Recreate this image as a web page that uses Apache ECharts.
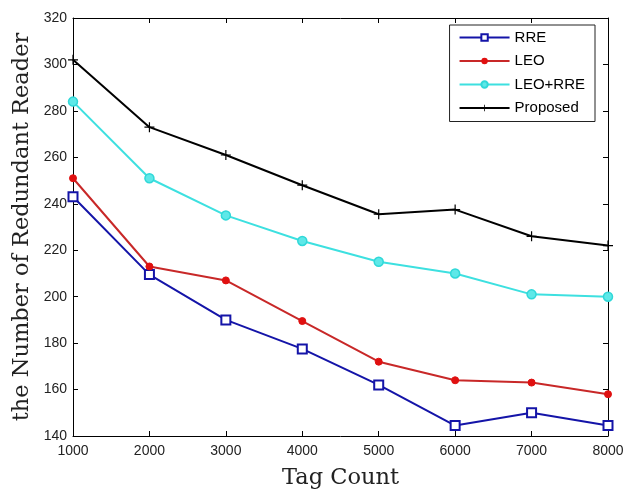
<!DOCTYPE html>
<html><head><meta charset="utf-8">
<script src="https://cdn.jsdelivr.net/npm/echarts@6/dist/echarts.min.js"></script>
<style>html,body{margin:0;padding:0;background:#fff}#c{width:623px;height:491px}</style>
</head><body><div id="c"></div>
<script>
const categories = [1000, 2000, 3000, 4000, 5000, 6000, 7000, 8000];
const rre = [243, 209.5, 190, 177.5, 162, 144.5, 150, 144.5];
const leo = [251, 213, 207, 189.5, 172, 164, 163, 158];
const leoRre = [284, 251, 235, 224, 215, 210, 201, 200];
const proposed = [302, 273, 261, 248, 235.5, 237.5, 226, 222];
const seriesNames = ['RRE', 'LEO', 'LEO+RRE', 'Proposed'];

const pair = arr => arr.map((v, i) => [categories[i], v]);
const plusPath = 'path://M4.4,0H5.6V4.4H10V5.6H5.6V10H4.4V5.6H0V4.4H4.4Z';

const chart = echarts.init(document.getElementById('c'));
const axisCommon = {
  axisLine: {lineStyle: {color: '#000', width: 1}},
  axisTick: {inside: true, length: 5, lineStyle: {color: '#000'}},
  splitLine: {show: false}
};
chart.setOption({
  animation: false,
  backgroundColor: '#fff',
  grid: {left: 73, right: 15, top: 18, bottom: 55, outerBoundsMode: 'none', containLabel: false},
  legend: {
    right: 28, top: 25, orient: 'vertical', itemWidth: 50, itemHeight: 8, itemGap: 8.5,
    backgroundColor: '#fff', borderColor: '#222', borderWidth: 1, borderRadius: 0,
    padding: [5, 10, 6, 9],
    textStyle: {fontFamily: 'Liberation Sans', fontSize: 15, color: '#000'},
    data: seriesNames
  },
  xAxis: [
    Object.assign({type: 'value', min: 1000, max: 8000, interval: 1000,
      name: 'Tag Count', nameLocation: 'middle', nameGap: 31, nameMoveOverlap: false,
      nameTextStyle: {fontFamily: 'DejaVu Serif', fontSize: 22.5, color: '#222'},
      axisLabel: {fontFamily: 'Liberation Sans', fontSize: 14, color: '#222', margin: 8,
        formatter: v => String(v)}}, axisCommon),
    Object.assign({type: 'value', min: 1000, max: 8000, interval: 1000, position: 'top',
      axisLabel: {show: false}}, axisCommon)
  ],
  yAxis: [
    Object.assign({type: 'value', min: 140, max: 320, interval: 20,
      name: 'the Number of Redundant Reader', nameLocation: 'middle', nameGap: 39, nameMoveOverlap: false,
      nameTextStyle: {fontFamily: 'DejaVu Serif', fontSize: 22.5, color: '#222'},
      axisLabel: {fontFamily: 'Liberation Sans', fontSize: 14, color: '#222', margin: 6}}, axisCommon),
    Object.assign({type: 'value', min: 140, max: 320, interval: 20, position: 'right',
      axisLabel: {show: false}}, axisCommon)
  ],
  series: [
    {name: 'RRE', type: 'line', data: pair(rre), symbol: 'rect', symbolSize: 9,
      color: '#1414a8', lineStyle: {width: 2, color: '#1414a8'},
      itemStyle: {color: '#fff', borderColor: '#1414a8', borderWidth: 2}},
    {name: 'LEO', type: 'line', data: pair(leo), symbol: 'circle', symbolSize: 7,
      color: '#d41c1c', lineStyle: {width: 2, color: '#c82828'},
      itemStyle: {color: '#e01010', borderColor: '#e01010'}},
    {name: 'LEO+RRE', type: 'line', data: pair(leoRre), symbol: 'circle', symbolSize: 9,
      color: '#3de0e0', lineStyle: {width: 2, color: '#3de0e0'},
      itemStyle: {color: '#5ee8e8', borderColor: '#30d8d8', borderWidth: 1.5}},
    {name: 'Proposed', type: 'line', data: pair(proposed), symbol: plusPath, symbolSize: 10,
      color: '#000', lineStyle: {width: 2, color: '#000'},
      itemStyle: {color: '#000'}}
  ]
});
</script></body></html>
